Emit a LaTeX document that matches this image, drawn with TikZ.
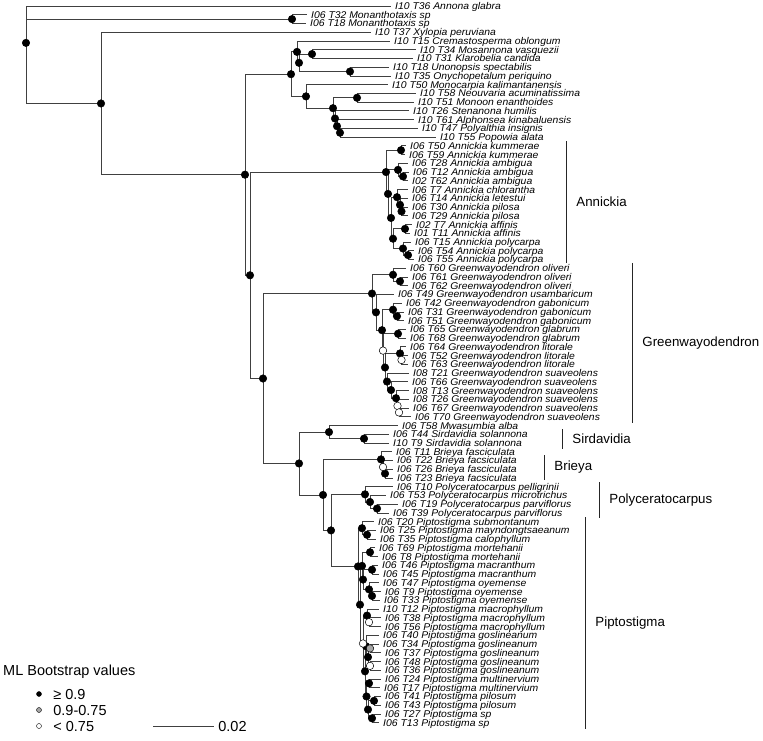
\documentclass[tikz,border=0pt]{standalone}
\usepackage{fontspec}
\setmainfont{Liberation Sans}
\newfontfamily\tipfont[FakeStretch=1.06]{Liberation Sans}
\usepackage{tikz}
\usetikzlibrary{positioning}

\begin{document}
\begin{tikzpicture}[
  x=1pt, y=-8.74pt,
  branch/.style={draw=black!75, line width=0.8pt},
  tiplab/.style={anchor=west, inner sep=0pt, xshift=4pt, text height=7pt, text depth=0pt,
    font=\tipfont\fontsize{9.8}{9.8}\selectfont\itshape},
  bshigh/.style={circle, draw=black, fill=black, line width=0.5pt, inner sep=0pt, minimum size=7.5pt},
  bsmid/.style={bshigh, fill=black!35},
  bslow/.style={bshigh, fill=white},
  cladebar/.style={draw=black!85, line width=0.9pt},
  cladelab/.style={anchor=west, inner sep=0pt, xshift=10pt, font=\fontsize{13.3}{13.3}\selectfont},
  legdot/.style={circle, draw=black, fill=black, line width=0.4pt, inner sep=0pt, minimum size=5pt},
  legtxt/.style={anchor=west, inner sep=0pt, text height=10.4pt, text depth=0pt,
    font=\fontsize{14.5}{14.5}\selectfont}
]
\useasboundingbox (0pt,6pt) rectangle (763pt,-735pt);

% tips
\foreach \t/\x/\lab in {
  0/391/I10 T36 Annona glabra, 1/307/I06 T32 Monanthotaxis sp, 2/306/I06 T18 Monanthotaxis sp,
  3/371/I10 T37 Xylopia peruviana, 4/390/I10 T15 Cremastosperma oblongum,
  5/416/I10 T34 Mosannona vasquezii, 6/413/I10 T31 Klarobelia candida,
  7/389/I10 T18 Unonopsis spectabilis, 8/391/I10 T35 Onychopetalum periquino,
  9/388/I10 T50 Monocarpia kalimantanensis, 10/416/I10 T58 Neouvaria acuminatissima,
  11/414/I10 T51 Monoon enanthoides, 12/409/I10 T26 Stenanona humilis,
  13/414/I10 T61 Alphonsea kinabaluensis, 14/418/I10 T47 Polyalthia insignis,
  15/436/I10 T55 Popowia alata,
  16/406/I06 T50 Annickia kummerae, 17/405/I06 T59 Annickia kummerae,
  18/408/I06 T28 Annickia ambigua, 19/409/I06 T12 Annickia ambigua, 20/408/I02 T62 Annickia ambigua,
  21/408/I06 T7 Annickia chlorantha, 22/408/I06 T14 Annickia letestui,
  23/408/I06 T30 Annickia pilosa, 24/408/I06 T29 Annickia pilosa,
  25/412/I02 T7 Annickia affinis, 26/410/I01 T11 Annickia affinis,
  27/411/I06 T15 Annickia polycarpa, 28/414/I06 T54 Annickia polycarpa, 29/414/I06 T55 Annickia polycarpa,
  30/406/I06 T60 Greenwayodendron oliveri, 31/408/I06 T61 Greenwayodendron oliveri,
  32/408/I06 T62 Greenwayodendron oliveri, 33/394/I06 T49 Greenwayodendron usambaricum,
  34/402/I06 T42 Greenwayodendron gabonicum, 35/404/I06 T31 Greenwayodendron gabonicum,
  36/404/I06 T51 Greenwayodendron gabonicum, 37/406/I06 T65 Greenwayodendron glabrum,
  38/406/I06 T68 Greenwayodendron glabrum, 39/406/I06 T64 Greenwayodendron litorale,
  40/408/I06 T52 Greenwayodendron litorale, 41/408/I06 T63 Greenwayodendron litorale,
  42/409/I08 T21 Greenwayodendron suaveolens, 43/408/I06 T66 Greenwayodendron suaveolens,
  44/409/I08 T13 Greenwayodendron suaveolens, 45/409/I08 T26 Greenwayodendron suaveolens,
  46/409/I06 T67 Greenwayodendron suaveolens, 47/411/I06 T70 Greenwayodendron suaveolens,
  48/398/I06 T58 Mwasumbia alba, 49/389/I06 T44 Sirdavidia solannona, 50/389/I10 T9 Sirdavidia solannona,
  51/392/I06 T11 Brieya fasciculata, 52/393/I06 T22 Brieya facsiculata,
  53/393/I06 T26 Brieya fasciculata, 54/393/I06 T23 Brieya facsiculata,
  55/393/I06 T10 Polyceratocarpus pelligrinii, 56/386/I06 T53 Polyceratocarpus microtrichus,
  57/398/I06 T19 Polyceratocarpus parviflorus, 58/389/I06 T39 Polyceratocarpus parviflorus,
  59/374/I06 T20 Piptostigma submontanum, 60/376/I06 T25 Piptostigma mayndongtsaeanum,
  61/376/I06 T35 Piptostigma calophyllum, 62/375/I06 T69 Piptostigma mortehanii,
  63/378/I06 T8 Piptostigma mortehanii, 64/378/I06 T46 Piptostigma macranthum,
  65/379/I06 T45 Piptostigma macranthum, 66/379/I06 T47 Piptostigma oyemense,
  67/381/I06 T9 Piptostigma oyemense, 68/380/I06 T33 Piptostigma oyemense,
  69/379/I10 T12 Piptostigma macrophyllum, 70/381/I06 T38 Piptostigma macrophyllum,
  71/381/I06 T56 Piptostigma macrophyllum, 72/379/I06 T40 Piptostigma goslineanum,
  73/379/I06 T34 Piptostigma goslineanum, 74/381/I06 T37 Piptostigma goslineanum,
  75/381/I06 T48 Piptostigma goslineanum, 76/381/I06 T36 Piptostigma goslineanum,
  77/381/I06 T24 Piptostigma multinervium, 78/380/I06 T17 Piptostigma multinervium,
  79/381/I06 T41 Piptostigma pilosum, 80/381/I06 T43 Piptostigma pilosum,
  81/381/I06 T27 Piptostigma sp, 82/379/I06 T13 Piptostigma sp}
{
  \coordinate (t\t) at (\x,\t);
  \node[tiplab] (lab\t) at (t\t) {\lab};
}

% internal nodes
\foreach \n/\x/\y in {
  root/26/4.22, mon/292/1.5, ingrp/101/11.15, core/245/19.30,
  cg/291/7.80, cgA/297/5.25, cgA2/299/6.5, cgA3/312/5.5, cgA4/350/7.5,
  cgB/306/10.34, cgB2/333/11.69, cgB3/357/10.5, cgB4/335/12.875, cgB5/337/13.75, cgB6/340/14.5,
  afr/250/30.81, ann/386/19.0, annK/401/16.5, annX/388/21.5, annAmb/398/18.75, annAmb2/403/19.5,
  annY/391/24.25, annChl/397/21.875, annChl2/400/22.75, annChl3/401.5/23.5,
  annAP/393/26.625, annAff/405/25.5, annPol/403/27.75, annPol2/408/28.5,
  gm/263/42.62, gw/372/32.90, gwOl/393/30.75, gwOl2/400/31.5, gwA/376/35.05, gwB/382/37.09,
  gwGab/393/34.75, gwGab2/397/35.5, gwC/383/39.43, gwGl/398/37.5, gwD/385/41.36,
  gwLit/400/39.75, gwLit2/401.5/40.5, gwS/387/42.97, gwS2/391/43.94, gwS3/396/44.875,
  gwS4/397.5/45.75, gwS5/399/46.5,
  q/299/52.34, ms/329/48.75, sird/364/49.5, r/323/55.94,
  br/381/51.875, br2/383/52.75, br3/385/53.5,
  p1/331/60.0, pc/365/55.875, pc2/370/56.75, pc3/377/57.5,
  pip/358/64.125, psub/362/59.75, psub2/367/60.5, k/360/68.5,
  mmo/362/64.06, morte/370/62.5, maoy/363/65.625, macr/372/64.5, oye/369/66.75, oye2/372/67.5,
  j/363/72.94, mac/367/69.75, mac2/369/70.5, gr/365/76.125,
  gos/366/73.25, gos2/368/74.5, gos3/370/73.5, gos4/370/75.5,
  rest/366.5/79.0, multi/369/77.5, ps/368/80.5, pil/374/79.5, sp/372/81.5}
  \coordinate (\n) at (\x,\y);

% branches
\foreach \p/\c in {
  root/t0, root/mon, root/ingrp, mon/t1, mon/t2, ingrp/t3, ingrp/core,
  core/cg, core/afr, cg/cgA, cg/cgB, cgA/t4, cgA/cgA2, cgA2/cgA3, cgA2/cgA4,
  cgA3/t5, cgA3/t6, cgA4/t7, cgA4/t8, cgB/t9, cgB/cgB2, cgB2/cgB3, cgB2/cgB4,
  cgB3/t10, cgB3/t11, cgB4/t12, cgB4/cgB5, cgB5/t13, cgB5/cgB6, cgB6/t14, cgB6/t15,
  afr/ann, afr/gm, ann/annK, ann/annX, annK/t16, annK/t17,
  annX/annAmb, annX/annY, annAmb/t18, annAmb/annAmb2, annAmb2/t19, annAmb2/t20,
  annY/annChl, annY/annAP, annChl/t21, annChl/annChl2, annChl2/t22, annChl2/annChl3,
  annChl3/t23, annChl3/t24, annAP/annAff, annAP/annPol, annAff/t25, annAff/t26,
  annPol/t27, annPol/annPol2, annPol2/t28, annPol2/t29,
  gm/gw, gm/q, gw/gwOl, gw/gwA, gwOl/t30, gwOl/gwOl2, gwOl2/t31, gwOl2/t32,
  gwA/t33, gwA/gwB, gwB/gwGab, gwB/gwC, gwGab/t34, gwGab/gwGab2, gwGab2/t35, gwGab2/t36,
  gwC/gwGl, gwC/gwD, gwGl/t37, gwGl/t38, gwD/gwLit, gwD/gwS,
  gwLit/t39, gwLit/gwLit2, gwLit2/t40, gwLit2/t41,
  gwS/t42, gwS/gwS2, gwS2/t43, gwS2/gwS3, gwS3/t44, gwS3/gwS4, gwS4/t45, gwS4/gwS5,
  gwS5/t46, gwS5/t47,
  q/ms, q/r, ms/t48, ms/sird, sird/t49, sird/t50,
  r/br, r/p1, br/t51, br/br2, br2/t52, br2/br3, br3/t53, br3/t54,
  p1/pc, p1/pip, pc/t55, pc/pc2, pc2/t56, pc2/pc3, pc3/t57, pc3/t58,
  pip/psub, pip/k, psub/t59, psub/psub2, psub2/t60, psub2/t61,
  k/mmo, k/j, mmo/morte, mmo/maoy, morte/t62, morte/t63,
  maoy/macr, maoy/oye, macr/t64, macr/t65, oye/t66, oye/oye2, oye2/t67, oye2/t68,
  j/mac, j/gr, mac/t69, mac/mac2, mac2/t70, mac2/t71,
  gr/gos, gr/rest, gos/t72, gos/gos2, gos2/gos3, gos2/gos4,
  gos3/t73, gos3/t74, gos4/t75, gos4/t76,
  rest/multi, rest/ps, multi/t77, multi/t78, ps/pil, ps/sp,
  pil/t79, pil/t80, sp/t81, sp/t82}
  \draw[branch] (\p) |- (\c);

% bootstrap support
\foreach \n in {root, mon, ingrp, core, cg, cgA, cgA2, cgA3, cgA4, cgB, cgB2, cgB3, cgB4, cgB5, cgB6,
  afr, ann, annK, annX, annAmb, annAmb2, annY, annChl, annChl2, annChl3, annAP, annAff, annPol, annPol2,
  gm, gw, gwOl, gwOl2, gwA, gwB, gwGab, gwGab2, gwGl, gwD, gwLit, gwS, gwS2, gwS3,
  q, ms, sird, r, br, br3, p1, pc, pc2, pc3, pip, psub, psub2, k, mmo, morte, maoy, macr, oye, oye2,
  mac, gr, gos, gos2, rest, multi, ps, pil, sp}
  \node[bshigh] at (\n) {};
\node[bsmid] at (gos3) {};
\foreach \n in {gwC, gwLit2, gwS4, gwS5, br2, mac2, j, gos4}
  \node[bslow] at (\n) {};

% clades
\foreach \c/\x/\ya/\yb/\lab in {
  annBar/566/15.45/29.4/Annickia, gwBar/632/29.4/47.7/Greenwayodendron,
  sirdBar/562/48.4/50.7/Sirdavidia, brBar/544/51.4/54.2/Brieya,
  pcBar/599/54.5/58.6/Polyceratocarpus, pipBar/585/58.5/82.7/Piptostigma}
{
  \coordinate (\c T) at (\x,\ya);
  \coordinate (\c B) at (\x,\yb);
  \draw[cladebar] (\c T) -- node[cladelab, midway] (\c L) {\lab} (\c B);
}

% legend
\node[legtxt] (bsTitle) at (3pt,-664pt) {ML Bootstrap values};
\node[legdot] (lgHi) at (39pt,-688pt) {};
\node[legdot, fill=black!35] (lgMid) at (39pt,-704pt) {};
\node[legdot, fill=white] (lgLow) at (39pt,-720pt) {};
\node[legtxt, right=11.5pt of lgHi] (lgHiT) {≥ 0.9};
\node[legtxt, right=11.5pt of lgMid] (lgMidT) {0.9-0.75};
\node[legtxt, right=11.5pt of lgLow] (lgLowT) {< 0.75};
\coordinate (sbL) at (153pt,-720pt);
\coordinate (sbR) at (214pt,-720pt);
\draw[branch] (sbL) -- (sbR) node[legtxt, xshift=4pt] (sbLab) {0.02};
\end{tikzpicture}
\end{document}
